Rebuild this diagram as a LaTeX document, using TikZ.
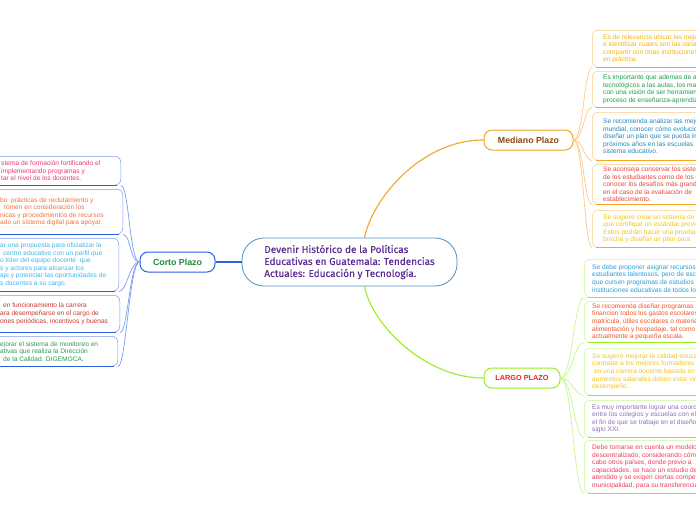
\documentclass[tikz,border=0pt]{standalone}
\usepackage{fontspec}
\setmainfont{Liberation Sans}
\newfontfamily\rootfont[FakeBold=0.4]{Fira Sans}
\definecolor{rootblue}{HTML}{4A90C8}
\definecolor{rootpurple}{HTML}{5C2D91}
\definecolor{oline}{HTML}{F5A623}
\definecolor{othin}{HTML}{FBCB85}
\definecolor{gline}{HTML}{99EE22}
\definecolor{gthin}{HTML}{C6F78F}
\definecolor{bline}{HTML}{2A5FE6}
\definecolor{bthin}{HTML}{7C9CF2}
\definecolor{mtxt}{HTML}{8B4516}
\definecolor{ctxt}{HTML}{1F8A3A}
\definecolor{ltxt}{HTML}{E5262A}
\definecolor{mA}{HTML}{F5B50A}
\definecolor{mB}{HTML}{1E9E4A}
\definecolor{mC}{HTML}{2288C0}
\definecolor{mD}{HTML}{E8453C}
\definecolor{mE}{HTML}{F5C51A}
\definecolor{lA}{HTML}{2A9ED6}
\definecolor{lB}{HTML}{F0582A}
\definecolor{lC}{HTML}{F5C51A}
\definecolor{lD}{HTML}{8E70B5}
\definecolor{lE}{HTML}{E8405A}
\definecolor{cA}{HTML}{E33A7A}
\definecolor{cB}{HTML}{F0723F}
\definecolor{cC}{HTML}{46B4EA}
\definecolor{cD}{HTML}{C43A30}
\definecolor{cE}{HTML}{2E9A55}
\begin{document}
\begin{tikzpicture}[x=1pt,y=-1pt,
  rootnode/.style={draw=rootblue, line width=0.8pt, rounded corners=22pt, fill=white,
    minimum width=215pt, minimum height=48pt, align=left, text=rootpurple, inner sep=0pt,
    font=\rootfont\fontsize{10}{12}\selectfont},
  parentnode/.style={rounded corners=8pt, fill=white, line width=1pt, minimum height=20pt,
    inner sep=0pt, font=\bfseries\fontsize{8.8}{10}\selectfont},
  rbox/.style={rounded corners=6pt, line width=0.5pt, anchor=north west, minimum width=300pt, inner sep=0pt},
  lbox/.style={rounded corners=6pt, line width=0.5pt, anchor=north east, minimum width=300pt, inner sep=0pt},
  leaftext/.style={font=\fontsize{6.6}{7.6}\selectfont, align=left, inner sep=0pt, anchor=west},
  mbox/.style={rbox, draw=othin},
  gbox/.style={rbox, draw=gthin},
  bbox/.style={lbox, draw=bthin},
  mthick/.style={draw=oline, line width=1.8pt},
  gthick/.style={draw=gline, line width=1.8pt},
  bthick/.style={draw=bline, line width=1.8pt},
  mconn/.style={draw=othin, line width=0.7pt},
  gconn/.style={draw=gthin, line width=0.7pt},
  bconn/.style={draw=bthin, line width=0.7pt},
]
\useasboundingbox (0,0) rectangle (696,520);
\clip (0,0) rectangle (696,520);
\fill[white] (0,0) rectangle (696,520);

% ---------- main nodes
\node[rootnode] (root) at (349.5,262) {Devenir Histórico de la Políticas\\Educativas en Guatemala: Tendencias\\Actuales: Educación y Tecnología.};
\node[parentnode, draw=oline, text=mtxt, minimum width=89pt] (mp) at (528.5,140) {Mediano Plazo};
\node[parentnode, draw=bline, text=ctxt, minimum width=75pt] (cp) at (177.5,262) {Corto Plazo};
\node[parentnode, draw=gline, text=ltxt, minimum width=76pt, font=\bfseries\fontsize{7.3}{8}\selectfont] (lp) at (522,378) {LARGO PLAZO};

\draw[draw=oline, line width=1.1pt] ([xshift=15pt]root.north) .. controls (372,200) and (420,140) .. (mp.west);
\draw[draw=gline, line width=1.1pt] ([xshift=15pt]root.south) .. controls (372,325) and (425,378) .. (lp.west);
\draw[draw=bline, line width=1.1pt] (root.west) -- (cp.east);

% ---------- Mediano Plazo leaves
\node[mbox, minimum height=37pt] (m1) at (592,30) {};
\node[mbox, minimum height=36pt] (m2) at (592,71) {};
\node[mbox, minimum height=48pt] (m3) at (592,112) {};
\node[mbox, minimum height=40pt] (m4) at (592,164) {};
\node[mbox, minimum height=37pt] (m5) at (592,210) {};
\foreach \n in {m1,m2,m3,m4,m5}{
  \draw[mthick] ([xshift=4pt]\n.south west) -- (\n.south east);
  \draw[mconn] (mp.east) .. controls +(10,0) and +(-8,0) .. (\n.south west);
}
\node[leaftext, text=mA] (m1t) at ([xshift=11pt]m1.west) {Es de relevancia ubicar las mejores\\e identificar cuales son las variables\\compartir con otras instituciones\\en práctica.};
\node[leaftext, text=mB] (m2t) at ([xshift=11pt]m2.west) {Es importante que ademas de aplicar\\tecnológicos a las aulas,  los maestros\\con una visión de ser herramientas\\proceso de enseñanza-aprendizaje.};
\node[leaftext, text=mC] (m3t) at ([xshift=11pt]m3.west) {Se recomienda analizar las mejores\\mundial,  conocer cómo evolucionan\\diseñar un plan que se pueda implementar\\próximos años en las escuelas\\sistema educativo.};
\node[leaftext, text=mD] (m4t) at ([xshift=11pt]m4.west) {Se aconseja conservar los sistemas\\de los estudiantes como de los docentes\\conocer los desafíos más grandes\\en el caso de la evaluación de\\establecimiento.};
\node[leaftext, text=mE] (m5t) at ([xshift=11pt]m5.west) {Se sugiere crear un sistema de\\que certifique un estándar previo\\Estos podrán hacer una prueba\\brecha y diseñar un plan para};

% ---------- Largo Plazo leaves
\node[gbox, minimum height=38pt] (l1) at (584,259) {};
\node[gbox, minimum height=41pt] (l2) at (584,301) {};
\node[gbox, minimum height=47pt] (l3) at (584,348) {};
\node[gbox, minimum height=37pt] (l4) at (584,400) {};
\node[gbox, minimum height=53pt] (l5) at (584,440) {};
\foreach \n in {l1,l2,l3,l4,l5}{
  \draw[gthick] ([xshift=4pt]\n.south west) -- (\n.south east);
  \draw[gconn] (lp.east) .. controls +(12,0) and +(-10,0) .. (\n.south west);
}
\node[leaftext, text=lA] (l1t) at ([xshift=8pt]l1.west) {Se debe proponer asignar recursos\\estudiantes talentosos, pero de escasos\\que cursen programas de estudios\\instituciones educativas de todos los};
\node[leaftext, text=lB] (l2t) at ([xshift=8pt]l2.west) {Se recomienda diseñar programas\\financien todos los gastos escolares\\matrícula, útiles escolares o materiales\\alimentación y hospedaje, tal como\\actualmente a pequeña escala.};
\node[leaftext, text=lC] (l3t) at ([xshift=8pt]l3.west) {Se sugiere mejorar la calidad educativa\\contratar a los mejores formadores\\\ en una carrera docente basada en\\aumentos salariales  deben estar vinculados\\desempeño.};
\node[leaftext, text=lD] (l4t) at ([xshift=8pt]l4.west) {Es muy importante lograr una coordinación\\entre los colegios y escuelas con el\\el fin de que se trabaje en el diseño\\siglo XXI.};
\node[leaftext, text=lE] (l5t) at ([xshift=8pt]l5.west) {Debe tomarse en cuenta un modelo\\descentralizado, considerando cómo\\cabo otros países, donde previo a\\capacidades, se hace un estudio de\\atendido y se exigen ciertas competencias\\municipalidad, para su transferencia};

% ---------- Corto Plazo leaves
\node[bbox, minimum height=29pt] (c1) at (121,156) {};
\node[bbox, minimum height=45pt] (c2) at (123,189) {};
\node[bbox, minimum height=53pt] (c3) at (119,238) {};
\node[bbox, minimum height=37pt] (c4) at (120,295) {};
\node[bbox, minimum height=30pt] (c5) at (118,336) {};
\foreach \n in {c1,c2,c3,c4,c5}{
  \draw[bthick] ([xshift=-4pt]\n.south east) -- (\n.south west);
  \draw[bconn] (cp.west) .. controls +(-10,0) and +(8,0) .. (\n.south east);
}
\node[leaftext, text=cA] (c1t) at (1,0 |- c1.west) {stema de formación fortificando el\\implementando programas y\\tar el nivel de los docentes.};
\node[leaftext, text=cB] (c2t) at (0,0 |- c2.west) {bo \ prácticas de reclutamiento y\\\hspace*{4pt}tomen en consideración los\\nicas y procedimientos de recursos\\ado un sistema digital para apoyar,};
\node[leaftext, text=cC] (c3t) at (0,0 |- c3.west) {ar una propuesta para oficializar la\\\hspace*{3pt}centro educativo con un perfil que\\o líder del equipo docente \ que\\s y actores para alcanzar los\\aje y potenciar las oportunidades de\\s docentes a su cargo.};
\node[leaftext, text=cD] (c4t) at (0,0 |- c4.west) {\hspace*{3pt}en funcionamiento la carrera\\ara desempeñarse en el cargo de\\ones periódicas, incentivos y buenas};
\node[leaftext, text=cE] (c5t) at (0,0 |- c5.west) {ejorar el sistema de monitoreo en\\ativas que realiza la Dirección\\\hspace*{3pt}de la Calidad. DIGEMOCA.};
\end{tikzpicture}
\end{document}
